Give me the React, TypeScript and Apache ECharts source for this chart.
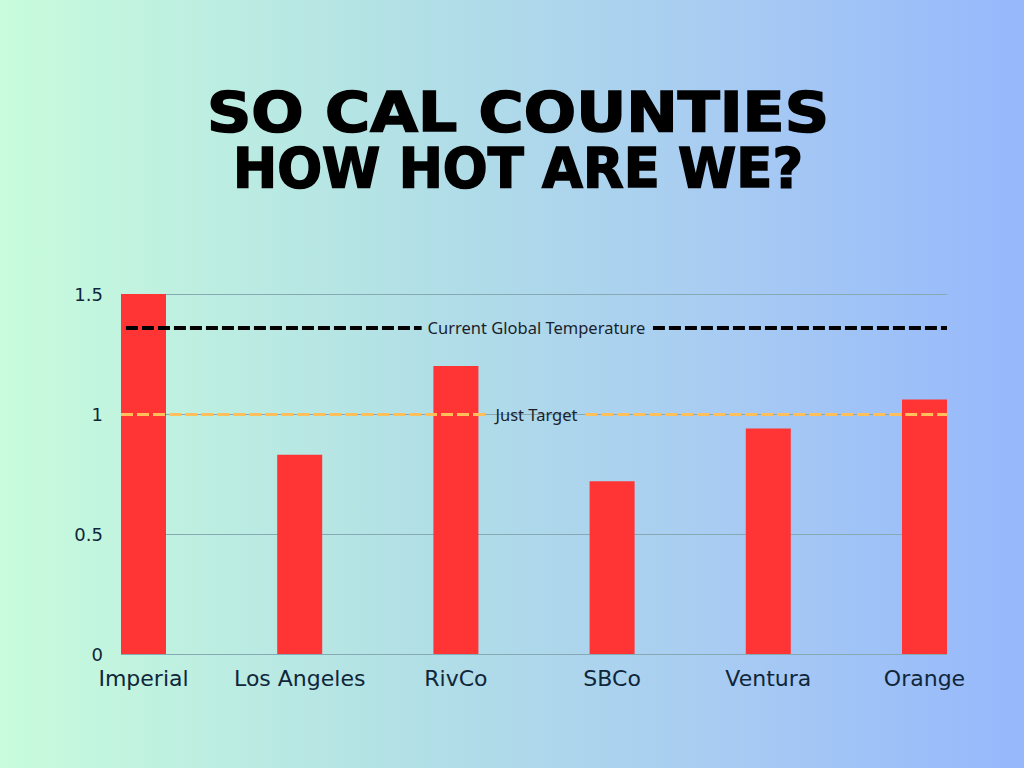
import React, { useEffect, useRef } from "react";
import * as echarts from "echarts";

const categories = ["Imperial", "Los Angeles", "RivCo", "SBCo", "Ventura", "Orange"];
const values = [1.5, 0.83, 1.2, 0.72, 0.94, 1.06];
const yTicks = { min: 0, max: 1.5, interval: 0.5 };
const globalTemp = 1.36;
const globalLabel = "Current Global Temperature";
const targetTemp = 1;
const targetLabel = "Just Target";
const titleLines = ["SO CAL COUNTIES", "HOW HOT ARE WE?"];

const LABEL_FONT = "'DejaVu Sans', sans-serif";
const TEXT_COLOR = "#10263a";

export default function App() {
  const ref = useRef<HTMLDivElement>(null);
  useEffect(() => {
    document.body.style.margin = "0";
    const chart = echarts.init(ref.current!, null, { renderer: "svg" });
    const refLine = (
      y: number,
      gapStart: number,
      gapEnd: number,
      label: string,
      color: string,
      width: number,
      start: number
    ) => ({
      type: "line",
      xAxisIndex: 0,
      yAxisIndex: 0,
      data: [],
      z: 5,
      silent: true,
      markLine: {
        symbol: "none",
        silent: true,
        animation: false,
        label: { show: false },
        lineStyle: { color, width, type: [12, 4], opacity: 1 },
        emphasis: { disabled: true },
        data: [
          [{ coord: [start, y] }, { coord: [gapStart, y] }],
          [{ coord: [gapEnd, y] }, { coord: [1, y] }],
        ],
      },
      markPoint: {
        symbol: "circle",
        symbolSize: 1,
        itemStyle: { color: "rgba(0,0,0,0)" },
        silent: true,
        animation: false,
        label: {
          show: true,
          position: "inside",
          formatter: label,
          fontFamily: "'Noto Sans', 'Open Sans', sans-serif",
          fontSize: 16.5,
          color: "#1b1f2b",
        },
        data: [{ coord: [0.503, y] }],
      },
    });
    const titleStyle = (text: string) => ({
      text,
      fill: "#000",
      font: "bold 55px 'DejaVu Sans', sans-serif",
      stroke: "#000",
      lineWidth: 1.6,
      textAlign: "center",
      textVerticalAlign: "middle",
    });
    chart.setOption({
      animation: false,
      graphic: [
        {
          type: "text",
          x: 518,
          y: 112,
          scaleX: 1.12,
          style: titleStyle(titleLines[0]),
        },
        {
          type: "text",
          x: 518,
          y: 168,
          scaleX: 0.96,
          style: titleStyle(titleLines[1]),
        },
      ],
      grid: [
        { left: 121, right: 77, top: 294, bottom: 114 },
        { left: 143.5, right: 99.5, top: 294, bottom: 114 },
      ],
      xAxis: [
        { type: "value", gridIndex: 0, min: 0, max: 1, show: false },
        {
          type: "category",
          gridIndex: 1,
          data: categories,
          boundaryGap: false,
          axisLine: { show: false },
          axisTick: { show: false },
          splitLine: { show: false },
          axisLabel: {
            fontFamily: LABEL_FONT,
            fontSize: 22,
            color: TEXT_COLOR,
            margin: 13,
            interval: 0,
          },
        },
      ],
      yAxis: [
        {
          type: "value",
          gridIndex: 0,
          min: yTicks.min,
          max: yTicks.max,
          interval: yTicks.interval,
          axisLine: { show: false },
          axisTick: { show: false },
          splitLine: { lineStyle: { color: "#86aab4", width: 1 } },
          axisLabel: {
            fontFamily: LABEL_FONT,
            fontSize: 18,
            color: TEXT_COLOR,
            margin: 18,
          },
        },
        {
          type: "value",
          gridIndex: 1,
          min: yTicks.min,
          max: yTicks.max,
          interval: yTicks.interval,
          show: false,
        },
      ],
      series: [
        {
          type: "bar",
          xAxisIndex: 1,
          yAxisIndex: 1,
          data: values,
          barWidth: 45,
          clip: false,
          z: 2,
          itemStyle: { color: "#ff3434" },
        },
        refLine(globalTemp, 0.364, 0.644, globalLabel, "#000000", 4, 0.006),
        refLine(targetTemp, 0.444, 0.562, targetLabel, "#ffbf5a", 3, 0),
      ],
    });
    return () => chart.dispose();
  }, []);
  return (
    <div
      ref={ref}
      style={{
        width: 1024,
        height: 768,
        background: "linear-gradient(90deg, #c8fcdc 0%, #b2e0e6 40%, #a8ccf2 70%, #96b8fc 100%)",
      }}
    />
  );
}
